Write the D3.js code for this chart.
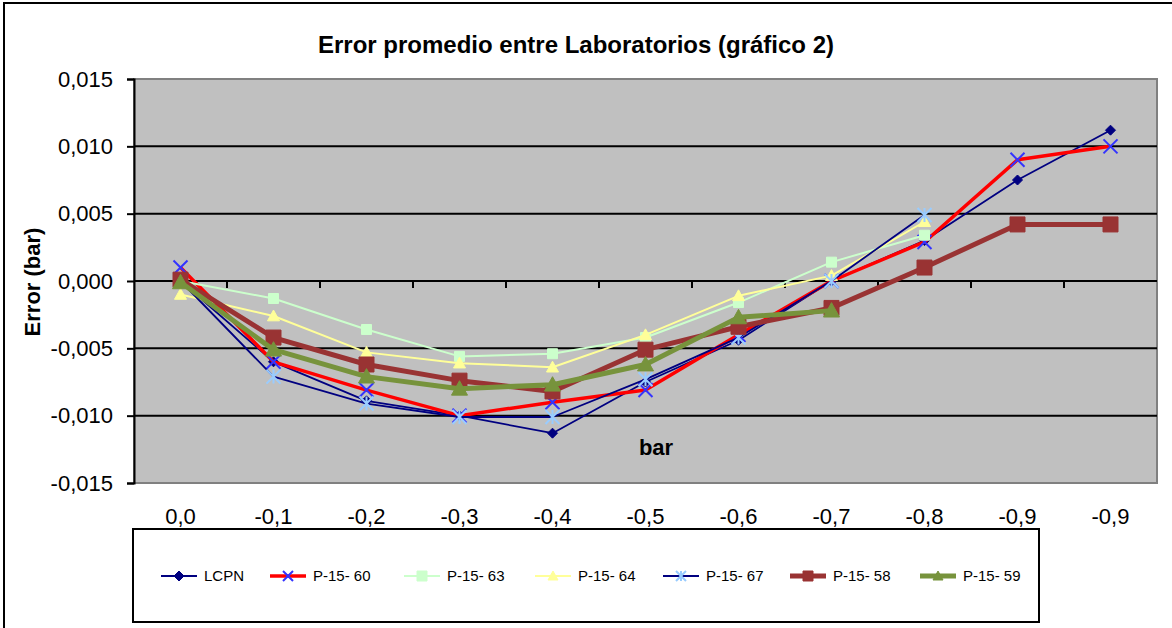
<!DOCTYPE html>
<html><head><meta charset="utf-8">
<script src="https://cdn.jsdelivr.net/npm/d3@7"></script>
<style>body{margin:0;background:#fff}svg{display:block;font-family:Arial,"Liberation Sans",sans-serif}</style>
</head><body><svg id="c" width="1172" height="628"></svg>
<script>
const categories = ["0,0","-0,1","-0,2","-0,3","-0,4","-0,5","-0,6","-0,7","-0,8","-0,9","-0,9"];
const yTicks = [-0.015,-0.010,-0.005,0,0.005,0.010,0.015];
const lcpn   = [0.0000,-0.0060,-0.0089,-0.0100,-0.0113,-0.0075,-0.0044,0.0000,0.0030,0.0075,0.0112];
const p1560  = [0.0010,-0.0060,-0.0081,-0.0100,-0.0090,-0.0081,-0.0040,0.0000,0.0029,0.0090,0.0100];
const p1563  = [0.0000,-0.0013,-0.0036,-0.0056,-0.0054,-0.0042,-0.0016,0.0014,0.0034,null,null];
const p1564  = [-0.0010,-0.0026,-0.0053,-0.0061,-0.0064,-0.0040,-0.0011,0.0004,0.0044,null,null];
const p1567  = [0.0000,-0.0071,-0.0091,-0.0101,-0.0101,-0.0073,-0.0042,0.0000,0.0049,null,null];
const p1558  = [0.0001,-0.0042,-0.0062,-0.0074,-0.0082,-0.0051,-0.0034,-0.0020,0.0010,0.0042,0.0042];
const p1559  = [-0.0001,-0.0051,-0.0071,-0.0080,-0.0077,-0.0062,-0.0027,-0.0022,null,null,null];
const seriesNames = ["LCPN","P-15- 60","P-15- 63","P-15- 64","P-15- 67","P-15- 58","P-15- 59"];

const series = [
  {name:seriesNames[0], values:lcpn,  line:"#000080", w:1.8, marker:"diamond", mfill:"#000080", mstroke:"#000080", ms:5},
  {name:seriesNames[1], values:p1560, line:"#ff0000", w:3.5, marker:"x",       mfill:"none",    mstroke:"#3333ff", ms:7},
  {name:seriesNames[2], values:p1563, line:"#ccffcc", w:2,   marker:"square",  mfill:"#ccffcc", mstroke:"#ccffcc", ms:5},
  {name:seriesNames[3], values:p1564, line:"#ffff99", w:2,   marker:"triangle",mfill:"#ffff99", mstroke:"#ffff99", ms:6},
  {name:seriesNames[4], values:p1567, line:"#000080", w:1.8, marker:"star",    mfill:"none",    mstroke:"#99ccff", ms:7},
  {name:seriesNames[5], values:p1558, line:"#993333", w:5,   marker:"square",  mfill:"#993333", mstroke:"#993333", ms:7.5},
  {name:seriesNames[6], values:p1559, line:"#77933c", w:5,   marker:"triangle",mfill:"#77933c", mstroke:"#77933c", ms:8}
];

const svg = d3.select("#c");
const L=134,R=1157,T=79,B=483;
const x = d3.scaleBand().domain(d3.range(categories.length)).range([L,R]);
const y = d3.scaleLinear().domain([-0.015,0.015]).range([B,T]);
const fmt = v => d3.format(".3f")(v).replace(".",",").replace("−","-");

svg.append("rect").attr("x",4).attr("y",3).attr("width",1190).attr("height",660).attr("fill","#fff").attr("stroke","#000").attr("stroke-width",2);

svg.append("text").attr("x",576).attr("y",53).attr("text-anchor","middle").attr("font-size",24).attr("font-weight","bold").text("Error promedio entre Laboratorios (gráfico 2)");

svg.append("rect").attr("x",L).attr("y",T).attr("width",R-L).attr("height",B-T).attr("fill","#c0c0c0").attr("stroke","#808080").attr("stroke-width",2);

svg.append("g").selectAll("line").data(yTicks.filter(t=>t>-0.015&&t<0.015)).join("line")
  .attr("x1",L).attr("x2",R).attr("y1",d=>y(d)).attr("y2",d=>y(d)).attr("stroke","#000").attr("stroke-width",2);

const ya = svg.append("g").attr("transform",`translate(${L},0)`)
  .call(d3.axisLeft(y).tickValues(yTicks).tickFormat(fmt).tickSize(7).tickPadding(14));
ya.select(".domain").attr("stroke","#000").attr("stroke-width",2);
ya.selectAll(".tick line").attr("stroke","#000").attr("stroke-width",2);
ya.selectAll("text").attr("font-size",22).attr("font-family","Arial, Liberation Sans, sans-serif").attr("fill","#000");

const xa = svg.append("g").attr("transform",`translate(0,${y(0)})`);
xa.append("line").attr("x1",L).attr("x2",R).attr("stroke","#000").attr("stroke-width",2);
xa.selectAll("line.t").data(d3.range(1,categories.length)).join("line").attr("class","t")
  .attr("x1",d=>x(d)).attr("x2",d=>x(d)).attr("y1",0).attr("y2",7).attr("stroke","#000").attr("stroke-width",2);
svg.append("g").selectAll("text").data(categories).join("text")
  .attr("x",(d,i)=>x(i)+x.bandwidth()/2).attr("y",524).attr("text-anchor","middle").attr("font-size",22).text(d=>d);

svg.append("text").attr("transform","translate(40,282) rotate(-90)").attr("text-anchor","middle").attr("font-size",22).attr("font-weight","bold").text("Error (bar)");
svg.append("text").attr("x",656).attr("y",455).attr("text-anchor","middle").attr("font-size",22).attr("font-weight","bold").text("bar");

function markerPath(type,s){
  switch(type){
    case "diamond": return `M0,${-s}L${s},0L0,${s}L${-s},0Z`;
    case "square": return `M${-s},${-s}H${s}V${s}H${-s}Z`;
    case "triangle": return `M0,${-s}L${s},${s*0.8}L${-s},${s*0.8}Z`;
    case "x": return `M${-s},${-s}L${s},${s}M${-s},${s}L${s},${-s}`;
    case "star": return `M${-s},${-s}L${s},${s}M${-s},${s}L${s},${-s}M0,${-s}V${s}`;
  }
}
const cx = i => x(i)+x.bandwidth()/2;
const line = d3.line().defined(d=>d!=null).x((d,i)=>cx(i)).y(d=>y(d));

series.forEach(s=>{
  const g = svg.append("g");
  g.append("path").attr("d",line(s.values)).attr("fill","none").attr("stroke",s.line).attr("stroke-width",s.w).attr("stroke-linejoin","round");
  g.selectAll("path.m").data(s.values.map((v,i)=>[v,i]).filter(d=>d[0]!=null)).join("path").attr("class","m")
    .attr("transform",d=>`translate(${cx(d[1])},${y(d[0])})`)
    .attr("d",markerPath(s.marker,s.ms)).attr("fill",s.mfill).attr("stroke",s.mstroke).attr("stroke-width",s.mfill==="none"?2:1);
});

svg.append("rect").attr("x",133).attr("y",529).attr("width",906).attr("height",93).attr("fill","#fff").attr("stroke","#000").attr("stroke-width",2);
const legX = [161,270,404,535,663,790,920];
const lg = svg.append("g").selectAll("g").data(series).join("g").attr("transform",(d,i)=>`translate(${legX[i]},576)`);
lg.append("line").attr("x1",0).attr("x2",36).attr("stroke",d=>d.line).attr("stroke-width",d=>d.w);
lg.append("path").attr("transform","translate(18,0)").attr("d",d=>markerPath(d.marker,Math.min(d.ms,5)))
  .attr("fill",d=>d.mfill).attr("stroke",d=>d.mstroke).attr("stroke-width",d=>d.mfill==="none"?2:1);
lg.append("text").attr("x",43).attr("y",5).attr("font-size",15).text(d=>d.name);
</script></body></html>
